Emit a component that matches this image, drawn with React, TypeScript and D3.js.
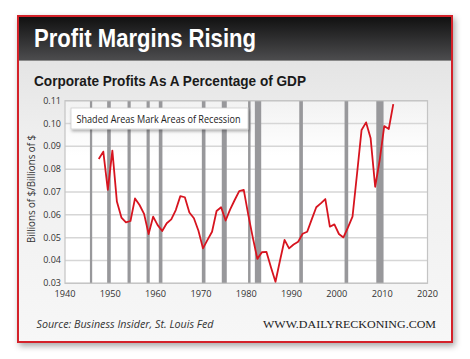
import React from "react";
import * as d3 from "d3";

const years: number[] = d3.range(1947, 2013);
const values: number[] = [
  0.0845, 0.0877, 0.0709, 0.0881, 0.0658, 0.0588, 0.0567, 0.0573, 0.0672, 0.0643,
  0.0604, 0.0516, 0.0592, 0.0555, 0.0529, 0.0563, 0.058, 0.0621, 0.0682, 0.0677,
  0.061, 0.0585, 0.053, 0.0453, 0.049, 0.0526, 0.0617, 0.0633, 0.0575, 0.0624,
  0.0665, 0.0704, 0.0709, 0.06, 0.05, 0.0407, 0.0436, 0.0438, 0.037, 0.0307,
  0.04, 0.049, 0.0453, 0.047, 0.0482, 0.0517, 0.0526, 0.058, 0.0633, 0.065,
  0.0669, 0.0548, 0.0558, 0.0516, 0.0501, 0.0545, 0.0592, 0.078, 0.0972, 0.1005,
  0.0935, 0.0723, 0.084, 0.0989, 0.0976, 0.1085,
];
const recessionStarts: number[] = [1945.5, 1949.3, 1953.8, 1958.0, 1960.7, 1970.2, 1974.6, 1980.4, 1981.9, 1991.7, 2001.7, 2008.7];
const recessionEnds: number[] = [1946.0, 1950.1, 1954.5, 1958.7, 1961.5, 1971.0, 1975.7, 1980.95, 1983.3, 1992.5, 2002.5, 2010.3];
const xTicks: number[] = [1940, 1950, 1960, 1970, 1980, 1990, 2000, 2010, 2020];
const yTicks: number[] = [0.03, 0.04, 0.05, 0.06, 0.07, 0.08, 0.09, 0.1, 0.11];

const title = "Profit Margins Rising";
const subtitle = "Corporate Profits As A Percentage of GDP";
const yTitle = "Billions of $/Billions of $";
const legendText = "Shaded Areas Mark Areas of Recession";
const sourceText = "Source: Business Insider, St. Louis Fed";
const siteText = "WWW.DAILYRECKONING.COM";

export default function App() {
  const W = 470, H = 359;
  const x = d3.scaleLinear().domain([1940, 2020]).range([65, 427.5]);
  const y = d3.scaleLinear().domain([0.03, 0.11]).range([283.3, 100.7]);
  const pts: [number, number][] = years.map((yr, i) => [yr + 0.45, values[i]]);
  const line = d3.line<[number, number]>().x((d) => x(d[0])).y((d) => y(d[1]));
  const sans = "'Open Sans', 'Noto Sans', Arial, sans-serif";
  const narrow = "'Liberation Sans Narrow', 'Liberation Sans', Arial, sans-serif";

  return (
    <svg width={W} height={H} style={{ position: "absolute", left: 0, top: 0 }}>
      <defs>
        <linearGradient id="hdr" x1="0" y1="0" x2="0" y2="1">
          <stop offset="0" stopColor="#111" />
          <stop offset="1" stopColor="#4c4c4e" />
        </linearGradient>
        <linearGradient id="panel" x1="0" y1="0" x2="0" y2="1">
          <stop offset="0" stopColor="#dedede" />
          <stop offset="0.35" stopColor="#eeeeee" />
          <stop offset="1" stopColor="#f7f7f7" />
        </linearGradient>
        <linearGradient id="plotbg" x1="0" y1="0" x2="0" y2="1">
          <stop offset="0" stopColor="#f2f2f2" />
          <stop offset="0.3" stopColor="#ffffff" />
        </linearGradient>
        <filter id="shadow" x="-10%" y="-10%" width="120%" height="130%">
          <feDropShadow dx="2" dy="3" stdDeviation="3" floodColor="#000" floodOpacity="0.35" />
        </filter>
        <filter id="lshadow" x="-10%" y="-30%" width="120%" height="180%">
          <feDropShadow dx="1" dy="2" stdDeviation="1.5" floodColor="#000" floodOpacity="0.3" />
        </filter>
      </defs>
      <rect x={0} y={0} width={W} height={H} fill="#ffffff" />
      {/* card */}
      <rect x={18} y={16} width={434} height={326} fill="url(#panel)" stroke="#d4202a" strokeWidth={2} filter="url(#shadow)" />
      <rect x={19} y={17} width={432} height={43} fill="url(#hdr)" />
      <line x1={19} x2={451} y1={60.5} y2={60.5} stroke="#8a8a8a" strokeWidth={1} />
      <text x={34} y={47} fill="#ffffff" fontFamily={narrow} fontWeight="bold" fontSize={25} textLength={222} lengthAdjust="spacingAndGlyphs">{title}</text>
      <text x={34} y={86} fill="#1a1a1a" fontFamily={narrow} fontWeight="bold" fontSize={15} textLength={272} lengthAdjust="spacingAndGlyphs">{subtitle}</text>

      {/* plot area */}
      <rect x={x(1940)} y={y(0.11)} width={x(2020) - x(1940)} height={y(0.03) - y(0.11)} fill="url(#plotbg)" />
      {yTicks.map((t) => (
        <line key={"g" + t} x1={x(1940)} x2={x(2020)} y1={y(t)} y2={y(t)} stroke="#d6d6d6" strokeWidth={1.5} />
      ))}
      {recessionStarts.map((s, i) => (
        <rect key={"r" + i} x={x(s)} y={y(0.11)} width={x(recessionEnds[i]) - x(s)} height={y(0.03) - y(0.11)} fill="#98989b" />
      ))}
      <rect x={x(1940)} y={y(0.11)} width={x(2020) - x(1940)} height={y(0.03) - y(0.11)} fill="none" stroke="#c4c4c4" strokeWidth={1.2} />
      <path d={line(pts) || ""} fill="none" stroke="#d7141f" strokeWidth={1.8} strokeLinejoin="round" />

      {/* legend */}
      <rect x={71} y={108} width={177} height={21} fill="#ffffff" stroke="#cfcfcf" strokeWidth={0.8} filter="url(#lshadow)" />
      <text x={76.5} y={122.5} fill="#222" fontFamily={sans} fontSize={10.5} textLength={164} lengthAdjust="spacingAndGlyphs">{legendText}</text>

      {/* axes labels */}
      {yTicks.map((t) => (
        <text key={"y" + t} x={61} y={y(t) + 3} textAnchor="end" fill="#333" fontFamily={sans} fontSize={9}>{d3.format(".2f")(t)}</text>
      ))}
      {xTicks.map((t) => (
        <text key={"x" + t} x={x(t)} y={297} textAnchor="middle" fill="#333" fontFamily={sans} fontSize={9.2}>{t}</text>
      ))}
      <text transform={`translate(35,189) rotate(-90)`} textAnchor="middle" fill="#333" fontFamily={sans} fontSize={10} textLength={108} lengthAdjust="spacingAndGlyphs">{yTitle}</text>

      {/* footer */}
      <text x={36.5} y={327.5} fill="#333" fontFamily={sans} fontStyle="italic" fontSize={10.5} textLength={177} lengthAdjust="spacingAndGlyphs">{sourceText}</text>
      <text x={263} y={327.5} fill="#222" fontFamily="'Liberation Serif', 'DejaVu Serif', serif" fontSize={11} textLength={173} lengthAdjust="spacingAndGlyphs">{siteText}</text>
    </svg>
  );
}
